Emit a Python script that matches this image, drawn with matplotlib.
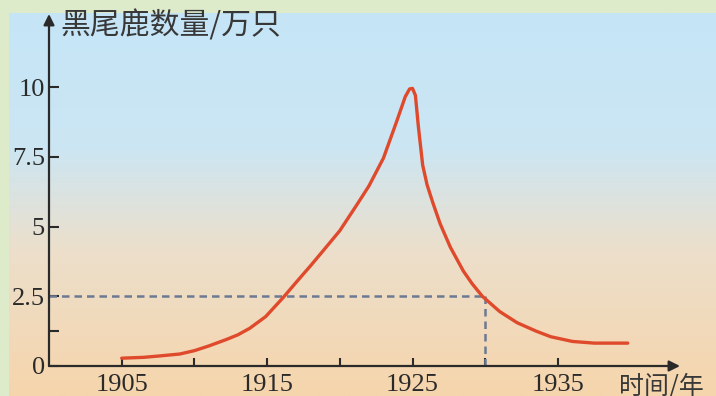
import numpy as np
import matplotlib.pyplot as plt
from matplotlib.colors import LinearSegmentedColormap

# Data
years = [1905, 1906.5, 1907.6, 1909, 1910, 1911, 1912.2, 1913, 1913.8, 1914.9,
         1916.1, 1917, 1918, 1918.9, 1920, 1921.2, 1922, 1922.5, 1923, 1923.9,
         1924.5, 1924.8, 1925, 1925.2, 1925.4, 1925.7, 1926, 1926.4, 1926.9, 1927.6,
         1928.5, 1929.1, 1929.8, 1931, 1932.2, 1933.5, 1934.5, 1936, 1937.5, 1939.8]
deer = [0.28, 0.31, 0.36, 0.43, 0.55, 0.72, 0.95, 1.12, 1.35, 1.77,
        2.45, 3.0, 3.6, 4.16, 4.85, 5.8, 6.45, 6.95, 7.45, 8.75,
        9.65, 9.93, 9.95, 9.7, 8.6, 7.2, 6.5, 5.85, 5.1, 4.26,
        3.4, 2.95, 2.5, 1.95, 1.55, 1.25, 1.05, 0.88, 0.82, 0.82]
xticks = [1905, 1910, 1915, 1920, 1925, 1930, 1935]
xlabels = ['1905', '', '1915', '', '1925', '', '1935']
yticks = [0, 1.25, 2.5, 5, 7.5, 10]
ylabels = ['0', '', '2.5', '5', '7.5', '10']
mark_year, mark_val = 1930, 2.5

W, H = 716, 396
fig = plt.figure(figsize=(W / 100, H / 100), dpi=100)
fig.patch.set_facecolor('#deebcb')

# gradient panel
bg = fig.add_axes([9 / W, 0, 1 - 9 / W, (H - 13) / H])
cmap = LinearSegmentedColormap.from_list('bg', [(0, '#c5e5f7'), (0.35, '#cce6f3'),
                                                (0.62, '#ecdfcb'), (1, '#f6d5ac')])
bg.imshow(np.linspace(0, 1, 256).reshape(-1, 1), aspect='auto', cmap=cmap)
bg.axis('off')

x0, x1 = 49, 680
y0, y1 = 366, 14
ax = fig.add_axes([x0 / W, (H - y0) / H, (x1 - x0) / W, (y0 - y1) / H])
ax.patch.set_alpha(0)
ax.set_xlim(1900, 1900 + (x1 - x0) / 14.54)
ax.set_ylim(0, (y0 - y1) / 27.9)
for s in ax.spines.values():
    s.set_visible(False)

ink = '#2a2a2a'
arrow = dict(arrowstyle='-|>', color=ink, lw=1.6, mutation_scale=16, shrinkA=0, shrinkB=0)
ax.annotate('', xy=(1, 0), xytext=(0, 0), xycoords='axes fraction', arrowprops=arrow)
ax.annotate('', xy=(0, 1), xytext=(0, 0), xycoords='axes fraction', arrowprops=arrow)

serif = 'Liberation Serif'
ax.set_xticks(xticks)
ax.set_xticklabels(xlabels, fontfamily=serif, fontsize=19, color=ink)
ax.set_yticks(yticks)
ax.set_yticklabels(ylabels, fontfamily=serif, fontsize=19, color=ink)
ax.tick_params(axis='x', direction='in', length=6, width=1.5, color=ink, pad=6)
ax.tick_params(axis='y', direction='in', length=7, width=1.5, color=ink, pad=3)

ax.plot([1900, mark_year], [mark_val, mark_val], ls=(0, (3, 2)), color='#6b7a92', lw=1.8)
ax.plot([mark_year, mark_year], [0, mark_val], ls=(0, (3, 2)), color='#6b7a92', lw=1.8)
ax.plot(years, deer, color='#e04a2c', lw=2.4, solid_joinstyle='round', solid_capstyle='round')

cjk = ['Noto Sans CJK SC', 'DejaVu Sans']
fig.text(60 / W, 1 - 26 / H, '黑尾鹿数量/万只', family=cjk, fontsize=21.5, color='#383838',
         va='center', ha='left')
fig.text(619 / W, 1 - 386 / H, '时间/年', family=cjk, fontsize=18, color='#383838',
         va='center', ha='left')

fig.savefig('out.png', dpi=100, facecolor=fig.get_facecolor())
